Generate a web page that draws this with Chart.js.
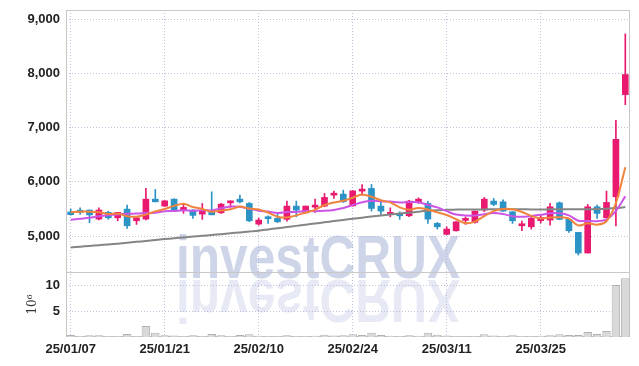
<!DOCTYPE html>
<html>
<head>
<meta charset="utf-8">
<script src="https://cdn.jsdelivr.net/npm/chart.js@4.4.1/dist/chart.umd.min.js"></script>
<style>
  html, body { margin: 0; padding: 0; background: #fff; }
</style>
</head>
<body>
<canvas id="stockChart" width="639" height="366"></canvas>
<script>
const dates = ['25/01/07','25/01/08','25/01/09','25/01/10','25/01/13','25/01/14','25/01/15','25/01/16','25/01/17','25/01/20',
  '25/01/21','25/01/22','25/01/23','25/01/24','25/01/31','25/02/03','25/02/04','25/02/05','25/02/06','25/02/07',
  '25/02/10','25/02/11','25/02/12','25/02/13','25/02/14','25/02/17','25/02/18','25/02/19','25/02/20','25/02/21',
  '25/02/24','25/02/25','25/02/26','25/02/27','25/02/28','25/03/04','25/03/05','25/03/06','25/03/07','25/03/10',
  '25/03/11','25/03/12','25/03/13','25/03/14','25/03/17','25/03/18','25/03/19','25/03/20','25/03/21','25/03/24',
  '25/03/25','25/03/26','25/03/27','25/03/28','25/03/31','25/04/01','25/04/02','25/04/03','25/04/04','25/04/07'];

const opens = [5445,5460,5480,5313,5437,5337,5497,5282,5313,5681,
  5553,5681,5479,5479,5405,5460,5429,5613,5681,5602,
  5221,5335,5326,5308,5553,5429,5534,5553,5755,5774,
  5558,5829,5879,5553,5400,5405,5374,5632,5602,5234,
  5031,5098,5289,5252,5479,5645,5632,5448,5190,5171,
  5285,5295,5613,5308,5068,4687,5540,5337,5725,7610];
const highs = [5500,5520,5480,5520,5460,5440,5571,5340,5879,5860,
  5655,5685,5602,5490,5602,5816,5602,5650,5755,5620,
  5330,5374,5400,5645,5645,5555,5681,5787,5829,5847,
  5840,5952,5952,5621,5521,5448,5660,5705,5640,5252,
  5171,5265,5355,5462,5713,5694,5669,5450,5276,5355,
  5375,5602,5630,5310,5070,5584,5571,5829,7135,8730];
const lows = [5385,5400,5245,5300,5310,5282,5142,5215,5300,5630,
  5545,5480,5418,5326,5308,5390,5420,5529,5610,5265,
  5200,5234,5250,5276,5355,5425,5437,5540,5694,5620,
  5550,5755,5461,5400,5355,5308,5360,5602,5234,5129,
  5025,5090,5215,5240,5448,5558,5455,5234,5098,5129,
  5240,5203,5300,5068,4650,4687,5326,5337,5185,7425];
const closes = [5395,5440,5390,5480,5337,5437,5190,5337,5681,5632,
  5650,5484,5529,5381,5460,5392,5589,5645,5632,5282,
  5295,5320,5263,5553,5479,5553,5571,5713,5787,5632,
  5834,5866,5510,5461,5437,5374,5645,5681,5313,5171,
  5129,5263,5313,5460,5681,5584,5460,5282,5215,5326,
  5340,5540,5308,5098,4687,5540,5418,5621,6785,7980];

const ma5 = [5440,5450,5450,5440,5408,5417,5367,5356,5396,5455,
  5498,5557,5595,5535,5501,5449,5470,5493,5544,5508,
  5489,5435,5358,5343,5382,5434,5484,5574,5621,5651,
  5707,5766,5726,5661,5622,5530,5485,5520,5490,5437,
  5388,5311,5238,5267,5369,5460,5500,5493,5444,5373,
  5325,5341,5346,5322,5195,5235,5210,5273,5610,6269];
const ma10 = [5300,5320,5340,5365,5385,5400,5410,5415,5425,5432,
  5457,5462,5476,5466,5478,5474,5514,5544,5539,5504,
  5469,5453,5426,5443,5445,5461,5459,5466,5482,5517,
  5571,5625,5650,5641,5636,5619,5626,5623,5575,5529,
  5459,5398,5379,5379,5403,5424,5406,5366,5356,5371,
  5392,5420,5420,5383,5284,5280,5275,5309,5466,5732];
const maLong = [4790,4803,4817,4831,4845,4860,4876,4893,4910,4927,
  4945,4960,4975,4990,5005,5020,5035,5051,5067,5083,
  5100,5122,5144,5166,5188,5210,5232,5254,5276,5298,
  5320,5340,5360,5380,5398,5415,5432,5450,5465,5476,
  5485,5488,5490,5491,5492,5493,5493,5493,5493,5492,
  5492,5493,5494,5494,5493,5495,5498,5504,5516,5535];

// volume, millions of shares
const volume = [0.38,0.2,0.35,0.35,0.15,0.15,0.58,0.1,2.1,0.83,
  0.35,0.3,0.15,0.35,0.2,0.58,0.35,0.15,0.4,0.55,
  0.25,0.15,0.15,0.35,0.2,0.2,0.25,0.45,0.3,0.35,
  0.55,0.4,0.8,0.4,0.25,0.15,0.35,0.25,0.8,0.45,
  0.3,0.1,0.12,0.2,0.55,0.3,0.2,0.35,0.15,0.2,
  0.25,0.35,0.55,0.4,0.4,0.96,0.58,1.15,10.0,11.3];

const priceTicks = [5000, 6000, 7000, 8000, 9000];
const volumeTicks = [5, 10];

const upColor = '#e8196e';
const downColor = '#2b93c5';
const gridColor = '#bfc4dc';
const labelFont = { family: '"Liberation Sans", Arial, sans-serif', size: 13, weight: 'bold' };

const bodies = opens.map((o, i) => [o, closes[i]]);
const wicks = lows.map((l, i) => [l, highs[i]]);
const candleColors = closes.map((c, i) => c >= opens[i] ? upColor : downColor);

// left axes: fixed width, no extra label padding above/below the panes
function fitLeftAxis(scale) {
  scale.width = 60;
  scale.paddingTop = 0;
  scale.paddingBottom = 0;
}

const framePlugin = {
  id: 'frame',
  beforeDatasetsDraw(chart) {
    const { ctx, chartArea: a } = chart;
    const vol = chart.scales.volume;

    // watermark + reflection, squeezed to a narrow face
    ctx.save();
    ctx.font = 'bold 62px "Liberation Sans", Arial, sans-serif';
    const text = 'investCRUX';
    const sx = 284 / ctx.measureText(text).width;
    const wx = a.left + 110;
    const wy = 278;
    ctx.translate(wx, wy);
    ctx.scale(sx, 1);
    ctx.fillStyle = 'rgba(160, 172, 212, 0.5)';
    ctx.fillText(text, 0, 0);
    ctx.scale(1, -1);
    ctx.translate(0, -2);
    ctx.fillStyle = 'rgba(170, 180, 214, 0.28)';
    ctx.fillText(text, 0, 0);
    ctx.restore();

    ctx.save();
    ctx.strokeStyle = '#c8c8c8';
    ctx.lineWidth = 1;
    ctx.strokeRect(Math.round(a.left) + 0.5, Math.round(a.top) + 0.5, Math.round(a.width) - 1, Math.round(a.height) - 1);
    ctx.beginPath();
    ctx.moveTo(a.left, Math.round(vol.top) + 0.5);
    ctx.lineTo(a.right, Math.round(vol.top) + 0.5);
    ctx.stroke();
    ctx.restore();
  }
};

const ctx = document.getElementById('stockChart').getContext('2d');
const stockChart = new Chart(ctx, {
  type: 'bar',
  data: {
    labels: dates,
    datasets: [
      { type: 'line', label: 'MA5', data: ma5, borderColor: '#f0843c', borderWidth: 2, pointRadius: 0, tension: 0.3, yAxisID: 'price', order: 0 },
      { type: 'line', label: 'MA10', data: ma10, borderColor: '#cc55e6', borderWidth: 2, pointRadius: 0, tension: 0.3, yAxisID: 'price', order: 1 },
      { type: 'line', label: 'MA long', data: maLong, borderColor: '#858585', borderWidth: 2, pointRadius: 0, tension: 0.3, yAxisID: 'price', order: 2 },
      { label: 'body', data: bodies, backgroundColor: candleColors, barThickness: 6, minBarLength: 2, grouped: false, yAxisID: 'price', order: 3 },
      { label: 'wick', data: wicks, backgroundColor: candleColors, barThickness: 1, grouped: false, yAxisID: 'price', order: 4 },
      {
        label: 'volume', data: volume, backgroundColor: '#d9d9d9', borderColor: '#b0b0b0',
        borderWidth: { left: 1, right: 1, top: 1, bottom: 0 }, borderSkipped: false,
        barPercentage: 0.9, categoryPercentage: 1, grouped: false, yAxisID: 'volume', order: 5
      }
    ]
  },
  options: {
    responsive: false,
    animation: false,
    layout: { padding: { left: 6, right: 9, top: 10, bottom: 9 } },
    plugins: {
      legend: { display: false },
      tooltip: { enabled: false }
    },
    scales: {
      x: {
        offset: true,
        grid: {
          offset: false,
          drawTicks: false,
          color: (c) => c.index % 10 === 0 ? gridColor : 'transparent'
        },
        border: { display: false, dash: [1, 2] },
        ticks: {
          autoSkip: false,
          maxRotation: 0,
          padding: 5,
          color: '#222',
          font: labelFont,
          callback: function(value, index) {
            return index % 10 === 0 ? this.getLabelForValue(value) : '';
          }
        },
        afterFit: (scale) => { scale.height = 20; }
      },
      volume: {
        position: 'left',
        stack: 'panes',
        stackWeight: 65,
        min: 0,
        max: 12.5,
        afterBuildTicks: (scale) => { scale.ticks = volumeTicks.map(v => ({ value: v })); },
        grid: { drawTicks: false, color: gridColor },
        border: { display: false, dash: [1, 2] },
        ticks: {
          autoSkip: false,
          padding: 6,
          color: '#222',
          font: labelFont
        },
        title: {
          display: true,
          text: '10⁶',
          color: '#333',
          font: { family: '"DejaVu Serif", serif', size: 12 },
          padding: { top: 20, bottom: 0 }
        },
        afterFit: fitLeftAxis
      },
      price: {
        position: 'left',
        stack: 'panes',
        stackWeight: 262,
        min: 4337,
        max: 9171,
        afterBuildTicks: (scale) => { scale.ticks = priceTicks.map(v => ({ value: v })); },
        grid: { drawTicks: false, color: gridColor },
        border: { display: false, dash: [1, 2] },
        ticks: {
          autoSkip: false,
          padding: 6,
          color: '#222',
          font: labelFont,
          callback: (v) => v.toLocaleString('en-US')
        },
        afterFit: fitLeftAxis
      }
    }
  },
  plugins: [framePlugin]
});
</script>
</body>
</html>
